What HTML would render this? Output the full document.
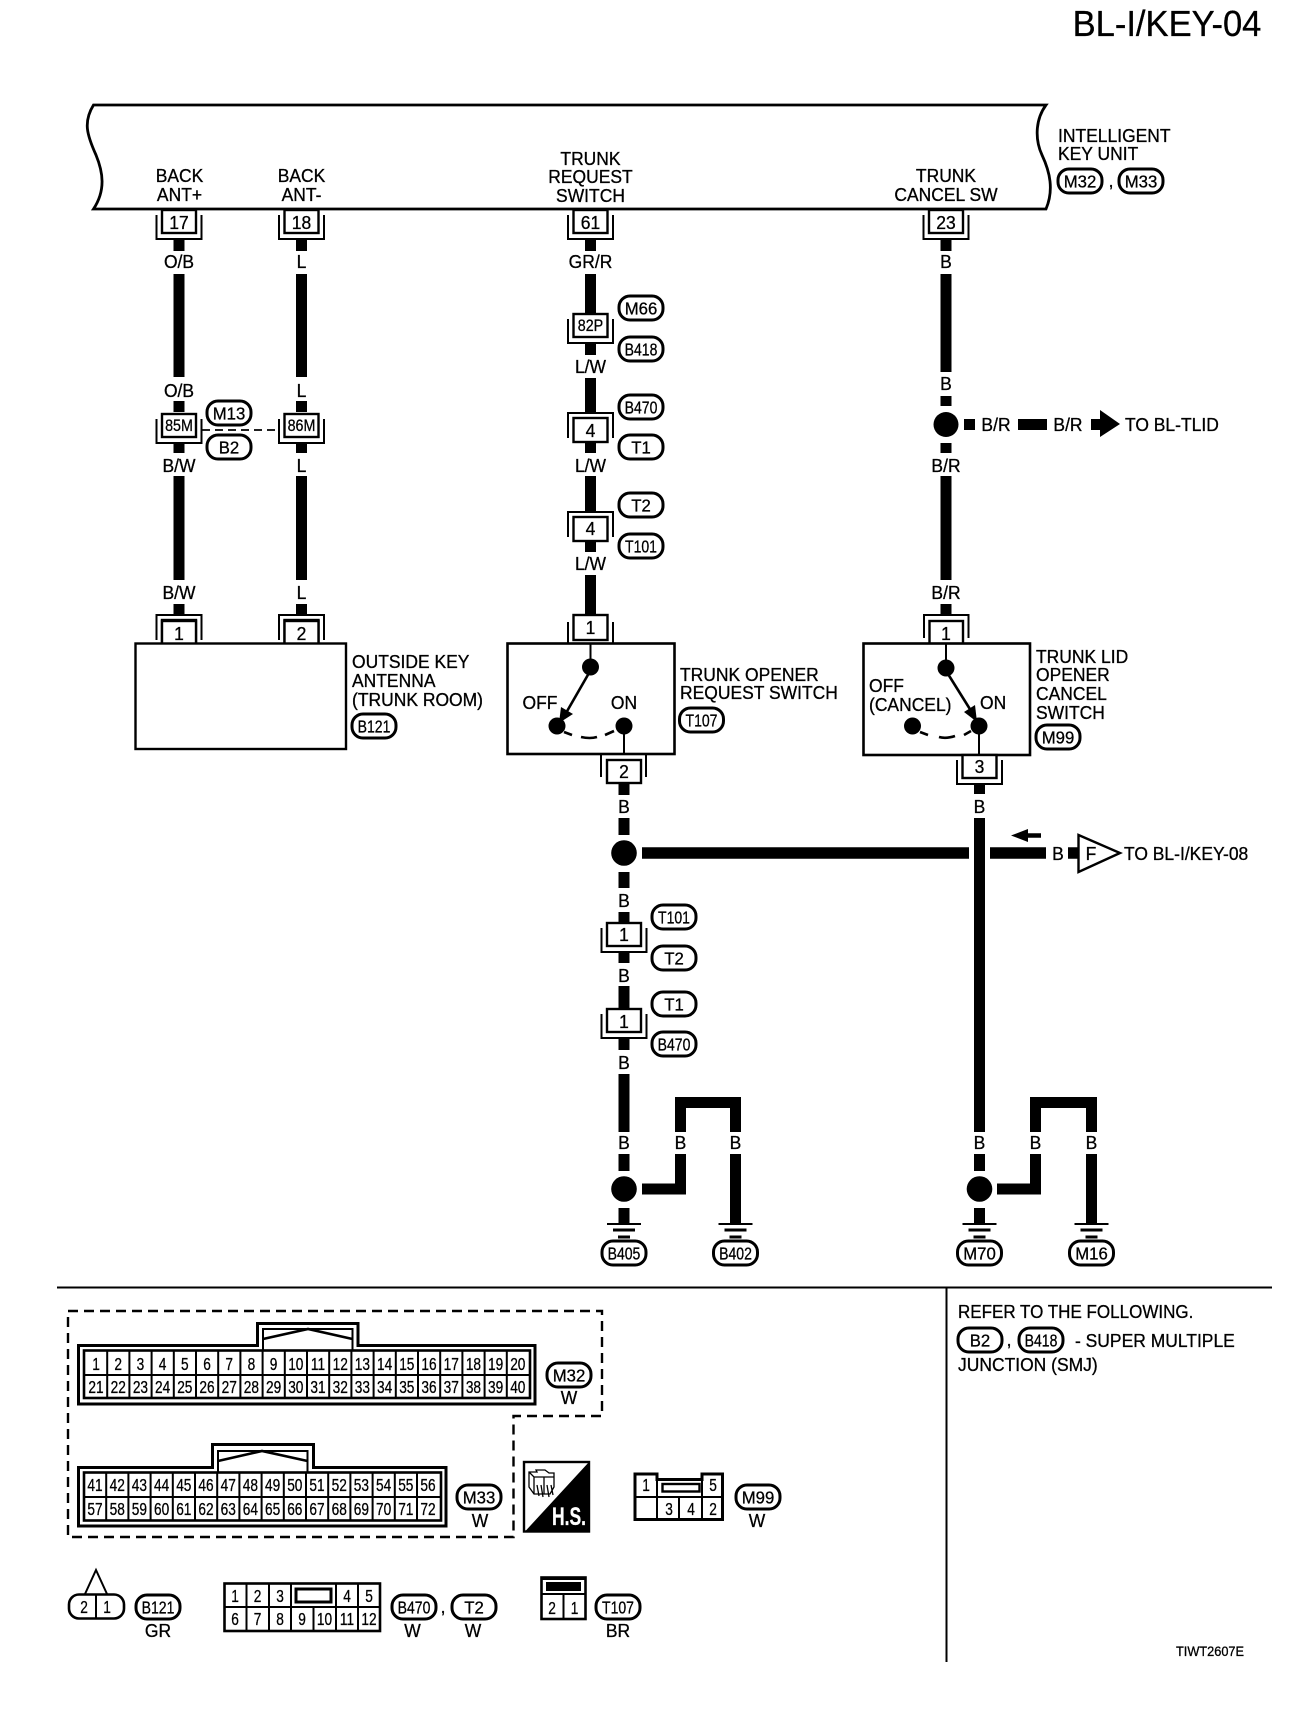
<!DOCTYPE html>
<html><head><meta charset="utf-8"><title>BL-I/KEY-04</title>
<style>
html,body{margin:0;padding:0;background:#fff}
svg{display:block}
text{font-family:"Liberation Sans",sans-serif;font-size:18.5px;fill:#000;stroke:#000;stroke-width:.3;text-anchor:middle;transform-box:fill-box;transform-origin:center;transform:scaleX(.945)}
.l{text-anchor:start;transform-origin:0 50%}
.t4{font-size:18px;transform:scaleX(.78)}
.t{font-size:18px;transform:scaleX(.93)}
.m{font-size:17px;transform:scaleX(.84)}
.g{font-size:18px;transform:scaleX(.76)}
.w{fill:none;stroke:#000;stroke-width:11}
.n{fill:none;stroke:#000;stroke-width:2}
.b{fill:none;stroke:#000;stroke-width:2.6}
</style></head><body>
<svg width="1312" height="1710" viewBox="0 0 1312 1710" xmlns="http://www.w3.org/2000/svg">
<defs>
<rect id="tg" x="-22" y="-12" width="44" height="24" rx="11" fill="#fff" stroke="#000" stroke-width="3"/>
<g id="cd"><path class="n" d="M-22.5 6V30H22.5V6"/><rect x="-17" y="1" width="34" height="23" fill="#fff" stroke="#000" stroke-width="2.4"/></g>
<g id="cu"><path class="n" d="M-22.5 26V1H22.5V26"/><rect x="-17" y="6" width="34" height="24" fill="#fff" stroke="#000" stroke-width="2.4"/></g>
<g id="gnd"><path d="M-17 1H17" stroke="#000" stroke-width="2"/><path d="M-11 7H11M-6 14H6" stroke="#000" stroke-width="3"/></g>
</defs>

<text x="1167" y="36" style="font-size:36px;transform:scaleX(.96)">BL-I/KEY-04</text>

<!-- main unit -->
<path d="M93.5 105H1046C1035 120 1035 140 1042 155C1050 172 1054 190 1046 209H93.5C106 190 103 172 96 155C87 135 83 122 93.5 105Z" fill="#fff" stroke="#000" stroke-width="2.8"/>
<text x="179.5" y="182">BACK</text><text x="179.5" y="201">ANT+</text>
<text x="301.5" y="182">BACK</text><text x="301.5" y="201">ANT-</text>
<text x="590.5" y="165">TRUNK</text><text x="590.5" y="183">REQUEST</text><text x="590.5" y="202">SWITCH</text>
<text x="946" y="182">TRUNK</text><text x="946" y="201">CANCEL SW</text>
<text class="l" x="1058" y="142">INTELLIGENT</text><text class="l" x="1058" y="160">KEY UNIT</text>
<use href="#tg" x="1080" y="181"/><text class="t" x="1080" y="187.5">M32</text>
<text x="1111" y="187">,</text>
<use href="#tg" x="1141" y="181"/><text class="t" x="1141" y="187.5">M33</text>

<!-- wires -->
<path class="w" d="M179 239V251M179 274V377M179 401V412M179 443V453M179 476V580M179 604V615"/>
<path class="w" d="M301.5 239V251M301.5 274V377M301.5 401V412M301.5 443V453M301.5 476V580M301.5 604V615"/>
<path class="w" d="M590.5 239V251M590.5 274V313M590.5 343V355M590.5 378V412M590.5 443V453M590.5 476V511M590.5 540V552M590.5 575V615"/>
<path class="w" d="M946 239V251M946 274V372M946 396V406M946 443V453M946 476V580M946 604V615"/>
<path class="w" d="M624 783V795M624 818V835M624 872V888M624 912V923M624 952V963M624 986V1008M624 1039V1050M624 1074V1132M624 1154V1171M624 1208V1223"/>
<path class="w" d="M979.5 784V794M979.5 818V1132M979.5 1154V1171M979.5 1208V1223"/>
<!-- ground branches -->
<path class="w" d="M642 1189H680.5V1154M680.5 1132V1102.5H735.5V1132M735.5 1154V1223"/>
<path class="w" d="M997 1189H1035.5V1154M1035.5 1132V1102.5H1091.5V1132M1091.5 1154V1223"/>
<!-- horizontal -->
<path d="M642 853H969M990 853H1046M1068 853H1079" stroke="#000" stroke-width="11.5" fill="none"/>
<path d="M964 424.5H975M1018 424.5H1047M1091 424.5H1101" stroke="#000" stroke-width="11" fill="none"/>
<polygon points="1100,410 1120,424 1100,437" fill="#000"/>

<!-- dots -->
<circle cx="946" cy="424.5" r="12.5"/><circle cx="624" cy="853" r="12.8"/>
<circle cx="624" cy="1189" r="12.8"/><circle cx="979.5" cy="1189" r="12.8"/>

<!-- connectors top -->
<use href="#cd" x="179" y="209"/><text x="179" y="229">17</text>
<use href="#cd" x="301.5" y="209"/><text x="301.5" y="229">18</text>
<use href="#cd" x="590.5" y="209"/><text x="590.5" y="229">61</text>
<use href="#cd" x="946" y="209"/><text x="946" y="229">23</text>
<use href="#cd" x="179" y="413"/><text class="m" x="179" y="431">85M</text>
<use href="#cd" x="301.5" y="413"/><text class="m" x="301.5" y="431">86M</text>
<path d="M202 430H278" stroke="#000" stroke-width="1.8" stroke-dasharray="8 5"/>
<use href="#cd" x="590.5" y="313"/><text class="m" x="590.5" y="331">82P</text>
<use href="#cu" x="590.5" y="412"/><text x="590.5" y="437">4</text>
<use href="#cu" x="590.5" y="511"/><text x="590.5" y="535">4</text>

<!-- wire labels -->
<text x="179" y="268">O/B</text><text x="301.5" y="268">L</text><text x="590.5" y="268">GR/R</text><text x="946" y="268">B</text>
<text x="179" y="397">O/B</text><text x="301.5" y="397">L</text>
<text x="179" y="472">B/W</text><text x="301.5" y="472">L</text>
<text x="179" y="599">B/W</text><text x="301.5" y="599">L</text>
<text x="590.5" y="373">L/W</text><text x="590.5" y="472">L/W</text><text x="590.5" y="570">L/W</text>
<text x="946" y="390">B</text><text x="946" y="472">B/R</text><text x="946" y="599">B/R</text>
<text x="996" y="431">B/R</text><text x="1068" y="431">B/R</text>
<text class="l" x="1125" y="431">TO BL-TLID</text>
<text x="624" y="813">B</text><text x="624" y="907">B</text><text x="624" y="982">B</text><text x="624" y="1069">B</text>
<text x="979.5" y="813">B</text><text x="1058" y="860">B</text>
<text x="624" y="1149">B</text><text x="680.5" y="1149">B</text><text x="735.5" y="1149">B</text>
<text x="979.5" y="1149">B</text><text x="1035.5" y="1149">B</text><text x="1091.5" y="1149">B</text>

<!-- tags -->
<use href="#tg" x="229" y="413"/><text class="t" x="229" y="419.5">M13</text>
<use href="#tg" x="229" y="447"/><text class="t" x="229" y="453.5">B2</text>
<use href="#tg" x="641" y="308"/><text class="t" x="641" y="314.5">M66</text>
<use href="#tg" x="641" y="349"/><text class="t4" x="641" y="355.5">B418</text>
<use href="#tg" x="641" y="407"/><text class="t4" x="641" y="413.5">B470</text>
<use href="#tg" x="641" y="447"/><text class="t" x="641" y="453.5">T1</text>
<use href="#tg" x="641" y="505"/><text class="t" x="641" y="511.5">T2</text>
<use href="#tg" x="641" y="546"/><text class="t4" x="641" y="552.5">T101</text>

<!-- antenna -->
<use href="#cu" x="179" y="614"/><rect x="162" y="621" width="34" height="24" fill="#fff" stroke="#000" stroke-width="2.4"/><text x="179" y="640">1</text>
<use href="#cu" x="301.5" y="614"/><rect x="284.5" y="621" width="34" height="24" fill="#fff" stroke="#000" stroke-width="2.4"/><text x="301.5" y="640">2</text>
<rect x="135.5" y="643.5" width="210.5" height="105.5" fill="#fff" stroke="#000" stroke-width="2.4"/>
<text class="l" x="352" y="668">OUTSIDE KEY</text><text class="l" x="352" y="687">ANTENNA</text><text class="l" x="352" y="706">(TRUNK ROOM)</text>
<use href="#tg" x="374" y="726"/><text class="t4" x="374" y="732.5">B121</text>

<!-- trunk opener switch -->
<path class="n" d="M568 622V643M613 622V643"/>
<rect x="573.5" y="615" width="34" height="25" fill="#fff" stroke="#000" stroke-width="2.4"/><text x="590.5" y="634">1</text>
<rect x="507.5" y="643.5" width="167" height="110.5" fill="#fff" stroke="#000" stroke-width="2.6"/>
<path class="n" d="M590.5 644V667M624 726V754"/>
<circle cx="590.5" cy="667" r="8.5"/><circle cx="557" cy="726" r="8.5"/><circle cx="624" cy="726" r="8.5"/>
<path class="b" d="M589 673L566 713"/>
<polygon points="559,723 561,707 573,714"/>
<path class="b" d="M564 732L572 735M581 737Q590 739 597 737M605 735L614 731"/>
<text x="540" y="709">OFF</text><text x="624" y="709">ON</text>
<text class="l" x="680" y="681">TRUNK OPENER</text><text class="l" x="680" y="699">REQUEST SWITCH</text>
<use href="#tg" x="701.5" y="720"/><text class="t4" x="701.5" y="726.5">T107</text>
<path class="n" d="M601 755V777M646 755V777"/>
<rect x="607" y="760" width="34" height="23" fill="#fff" stroke="#000" stroke-width="2.4"/><text x="624" y="778">2</text>

<!-- trunk lid switch -->
<path class="n" d="M924 638V615H968.5V638"/>
<rect x="929.5" y="621" width="33.5" height="23" fill="#fff" stroke="#000" stroke-width="2.4"/><text x="946" y="640">1</text>
<rect x="863.5" y="643.5" width="166.5" height="111.5" fill="#fff" stroke="#000" stroke-width="2.6"/>
<path class="n" d="M946 644V668M979 726V755"/>
<circle cx="946" cy="668" r="8.5"/><circle cx="912.5" cy="726" r="8.5"/><circle cx="979" cy="726" r="8.5"/>
<path class="b" d="M948 674L973 714"/>
<polygon points="977,722 964,712 975,705"/>
<path class="b" d="M920 732L928 735M939 737Q946 739 955 736M964 735L971 731"/>
<text class="l" x="869" y="692">OFF</text><text class="l" x="869" y="711">(CANCEL)</text><text class="l" x="980" y="709">ON</text>
<text class="l" x="1036" y="663">TRUNK LID</text><text class="l" x="1036" y="681">OPENER</text><text class="l" x="1036" y="700">CANCEL</text><text class="l" x="1036" y="719">SWITCH</text>
<use href="#tg" x="1058" y="737"/><text class="t" x="1058" y="743.5">M99</text>
<use href="#cd" x="979.5" y="754"/><text x="979.5" y="773">3</text>

<!-- F connector -->
<polygon points="1078.5,835 1120,853 1078.5,872" fill="#fff" stroke="#000" stroke-width="2.4"/>
<text x="1091" y="860">F</text>
<text class="l" x="1124" y="860">TO BL-I/KEY-08</text>
<path d="M1025 835.5H1041" stroke="#000" stroke-width="4.5"/><polygon points="1011,835.5 1028,829 1028,842"/>

<!-- lower connectors -->
<use href="#cd" x="624" y="922"/><text x="624" y="941">1</text>
<use href="#cd" x="624" y="1008"/><text x="624" y="1028">1</text>
<use href="#tg" x="674" y="917"/><text class="t4" x="674" y="923.5">T101</text>
<use href="#tg" x="674" y="958"/><text class="t" x="674" y="964.5">T2</text>
<use href="#tg" x="674" y="1004"/><text class="t" x="674" y="1010.5">T1</text>
<use href="#tg" x="674" y="1044"/><text class="t4" x="674" y="1050.5">B470</text>

<!-- grounds -->
<use href="#gnd" x="624" y="1223"/><use href="#gnd" x="735.5" y="1223"/><use href="#gnd" x="979.5" y="1223"/><use href="#gnd" x="1091.5" y="1223"/>
<use href="#tg" x="624" y="1253"/><text class="t4" x="624" y="1259.5">B405</text>
<use href="#tg" x="735.5" y="1253"/><text class="t4" x="735.5" y="1259.5">B402</text>
<use href="#tg" x="979.5" y="1253"/><text class="t" x="979.5" y="1259.5">M70</text>
<use href="#tg" x="1091.5" y="1253"/><text class="t" x="1091.5" y="1259.5">M16</text>

<!-- separators -->
<path d="M57 1287.5H1272M946.5 1287.5V1662" stroke="#000" stroke-width="2" fill="none"/>

<!-- refer -->
<text class="l" x="958" y="1318" style="transform:scaleX(.92)">REFER TO THE FOLLOWING.</text>
<use href="#tg" x="980" y="1340"/><text class="t" x="980" y="1346.5">B2</text>
<text x="1009" y="1346">,</text>
<use href="#tg" x="1041" y="1340"/><text class="t4" x="1041" y="1346.5">B418</text>
<text class="l" x="1075" y="1347">- SUPER MULTIPLE</text>
<text class="l" x="958" y="1371">JUNCTION (SMJ)</text>
<text class="l" x="1176" y="1656" style="font-size:13.5px">TIWT2607E</text>

<!-- dashed border -->
<path d="M68 1311H602V1416H513.5V1537H68Z" fill="none" stroke="#000" stroke-width="2.4" stroke-dasharray="10 6"/>

<!-- M32 -->
<path d="M78.5 1345.5H257.5V1323.5H358V1345.5H535V1404H78.5Z" fill="#fff" stroke="#000" stroke-width="3"/>
<path d="M263 1350V1329H352.5V1350" class="n"/>
<path d="M263 1339L308 1329L352.5 1339" fill="none" stroke="#000" stroke-width="2.6"/>
<rect x="84" y="1350.5" width="446" height="47.5" fill="#fff" stroke="#000" stroke-width="2.6"/>
<path d="M85 1375H529M107.2 1351V1398M129.4 1351V1398M151.6 1351V1398M173.8 1351V1398M196 1351V1398M218.2 1351V1398M240.4 1351V1398M262.6 1351V1398M284.8 1351V1398M307 1351V1398M329.2 1351V1398M351.4 1351V1398M373.6 1351V1398M395.8 1351V1398M418 1351V1398M440.2 1351V1398M462.4 1351V1398M484.6 1351V1398M506.8 1351V1398" class="n"/>
<g class="r1">
<text class="g" x="96" y="1370">1</text><text class="g" x="118.2" y="1370">2</text><text class="g" x="140.4" y="1370">3</text><text class="g" x="162.6" y="1370">4</text><text class="g" x="184.8" y="1370">5</text><text class="g" x="207" y="1370">6</text><text class="g" x="229.2" y="1370">7</text><text class="g" x="251.4" y="1370">8</text><text class="g" x="273.6" y="1370">9</text><text class="g" x="295.8" y="1370">10</text><text class="g" x="318" y="1370">11</text><text class="g" x="340.2" y="1370">12</text><text class="g" x="362.4" y="1370">13</text><text class="g" x="384.6" y="1370">14</text><text class="g" x="406.8" y="1370">15</text><text class="g" x="429" y="1370">16</text><text class="g" x="451.2" y="1370">17</text><text class="g" x="473.4" y="1370">18</text><text class="g" x="495.6" y="1370">19</text><text class="g" x="517.8" y="1370">20</text>
<text class="g" x="96" y="1393">21</text><text class="g" x="118.2" y="1393">22</text><text class="g" x="140.4" y="1393">23</text><text class="g" x="162.6" y="1393">24</text><text class="g" x="184.8" y="1393">25</text><text class="g" x="207" y="1393">26</text><text class="g" x="229.2" y="1393">27</text><text class="g" x="251.4" y="1393">28</text><text class="g" x="273.6" y="1393">29</text><text class="g" x="295.8" y="1393">30</text><text class="g" x="318" y="1393">31</text><text class="g" x="340.2" y="1393">32</text><text class="g" x="362.4" y="1393">33</text><text class="g" x="384.6" y="1393">34</text><text class="g" x="406.8" y="1393">35</text><text class="g" x="429" y="1393">36</text><text class="g" x="451.2" y="1393">37</text><text class="g" x="473.4" y="1393">38</text><text class="g" x="495.6" y="1393">39</text><text class="g" x="517.8" y="1393">40</text>
</g>
<use href="#tg" x="569" y="1375"/><text class="t" x="569" y="1381.5">M32</text><text x="569" y="1404">W</text>

<!-- M33 -->
<path d="M78.5 1467.5H212.5V1444.5H313.5V1467.5H446V1526H78.5Z" fill="#fff" stroke="#000" stroke-width="3"/>
<path d="M218 1472V1451H307.5V1472" class="n"/>
<path d="M218 1461L262 1451L307.5 1461" fill="none" stroke="#000" stroke-width="2.6"/>
<rect x="84" y="1472.5" width="357" height="48" fill="#fff" stroke="#000" stroke-width="2.6"/>
<path d="M85 1497H440M106.2 1473V1520M128.4 1473V1520M150.6 1473V1520M172.8 1473V1520M195 1473V1520M217.2 1473V1520M239.4 1473V1520M261.6 1473V1520M283.8 1473V1520M306 1473V1520M328.2 1473V1520M350.4 1473V1520M372.6 1473V1520M394.8 1473V1520M417 1473V1520" class="n"/>
<text class="g" x="95" y="1491">41</text><text class="g" x="117.2" y="1491">42</text><text class="g" x="139.4" y="1491">43</text><text class="g" x="161.6" y="1491">44</text><text class="g" x="183.8" y="1491">45</text><text class="g" x="206" y="1491">46</text><text class="g" x="228.2" y="1491">47</text><text class="g" x="250.4" y="1491">48</text><text class="g" x="272.6" y="1491">49</text><text class="g" x="294.8" y="1491">50</text><text class="g" x="317" y="1491">51</text><text class="g" x="339.2" y="1491">52</text><text class="g" x="361.4" y="1491">53</text><text class="g" x="383.6" y="1491">54</text><text class="g" x="405.8" y="1491">55</text><text class="g" x="428" y="1491">56</text>
<text class="g" x="95" y="1515">57</text><text class="g" x="117.2" y="1515">58</text><text class="g" x="139.4" y="1515">59</text><text class="g" x="161.6" y="1515">60</text><text class="g" x="183.8" y="1515">61</text><text class="g" x="206" y="1515">62</text><text class="g" x="228.2" y="1515">63</text><text class="g" x="250.4" y="1515">64</text><text class="g" x="272.6" y="1515">65</text><text class="g" x="294.8" y="1515">66</text><text class="g" x="317" y="1515">67</text><text class="g" x="339.2" y="1515">68</text><text class="g" x="361.4" y="1515">69</text><text class="g" x="383.6" y="1515">70</text><text class="g" x="405.8" y="1515">71</text><text class="g" x="428" y="1515">72</text>
<use href="#tg" x="479" y="1497"/><text class="t" x="479" y="1503.5">M33</text><text x="480" y="1527">W</text>

<!-- HS icon -->
<rect x="524" y="1462" width="65" height="69.5" fill="#fff" stroke="#000" stroke-width="2.4"/>
<polygon points="589,1462 589,1531.5 525,1531.5" fill="#000"/>
<path d="M529 1472H537L536 1470H545L549 1473H554V1487L550 1494H534L529 1487ZM529 1472L534 1477H554M534 1477V1494M544 1477V1494M537 1485L539 1496M541 1485L543 1497M547 1485L549 1497M551 1485L553 1495" fill="none" stroke="#000" stroke-width="1.3"/>
<text x="569" y="1525" style="fill:#fff;stroke:#fff;font-weight:bold;font-size:25px;transform:scaleX(.7)">H.S.</text>

<!-- M99 connector -->
<path d="M635 1474H657V1479.5H702V1474H722.5V1519.5H635Z" fill="#fff" stroke="#000" stroke-width="3"/>
<path class="n" d="M657 1474V1519M702 1474V1519M679 1497V1519M635 1497H722"/>
<rect x="662.5" y="1484" width="37" height="7.5" fill="#fff" stroke="#000" stroke-width="2.4"/>
<text class="g" x="646" y="1491">1</text><text class="g" x="713" y="1491">5</text>
<text class="g" x="669" y="1515">3</text><text class="g" x="691" y="1515">4</text><text class="g" x="713" y="1515">2</text>
<use href="#tg" x="758" y="1497"/><text class="t" x="758" y="1503.5">M99</text><text x="757" y="1527">W</text>

<!-- B121 connector -->
<path class="n" d="M85 1594L96 1570L107 1594"/>
<rect x="69" y="1594.5" width="55" height="24" rx="10" fill="#fff" stroke="#000" stroke-width="2.6"/>
<path class="n" d="M96 1594V1619"/>
<text class="g" x="84" y="1613">2</text><text class="g" x="107" y="1613">1</text>
<use href="#tg" x="158" y="1607"/><text class="t4" x="158" y="1613.5">B121</text><text x="158" y="1637">GR</text>

<!-- 12 pin -->
<rect x="224.5" y="1583.5" width="155.5" height="47.5" fill="#fff" stroke="#000" stroke-width="2.6"/>
<path class="n" d="M224 1607H380M246.5 1583V1631M269 1583V1631M291 1583V1631M336 1583V1631M358 1583V1631M313.5 1607V1631"/>
<rect x="296" y="1589" width="35" height="13" fill="#fff" stroke="#000" stroke-width="3"/>
<text class="g" x="235" y="1602">1</text><text class="g" x="257.5" y="1602">2</text><text class="g" x="280" y="1602">3</text><text class="g" x="347" y="1602">4</text><text class="g" x="369" y="1602">5</text>
<text class="g" x="235" y="1625">6</text><text class="g" x="257.5" y="1625">7</text><text class="g" x="280" y="1625">8</text><text class="g" x="302" y="1625">9</text><text class="g" x="324.5" y="1625">10</text><text class="g" x="347" y="1625">11</text><text class="g" x="369" y="1625">12</text>
<use href="#tg" x="414" y="1607"/><text class="t4" x="414" y="1613.5">B470</text><text x="412.5" y="1637">W</text>
<text x="443" y="1613">,</text>
<use href="#tg" x="474" y="1607"/><text class="t" x="474" y="1613.5">T2</text><text x="473" y="1637">W</text>

<!-- T107 connector -->
<rect x="541.5" y="1577.5" width="44" height="41.5" fill="#fff" stroke="#000" stroke-width="2.6"/>
<rect x="541" y="1577" width="45" height="3" fill="#000"/>
<rect x="546" y="1582" width="35" height="9"/>
<path class="n" d="M541 1594H586M563.5 1594V1619"/>
<text class="g" x="552" y="1614">2</text><text class="g" x="574.5" y="1614">1</text>
<use href="#tg" x="618" y="1607"/><text class="t4" x="618" y="1613.5">T107</text><text x="618" y="1637">BR</text>
</svg>
</body></html>
